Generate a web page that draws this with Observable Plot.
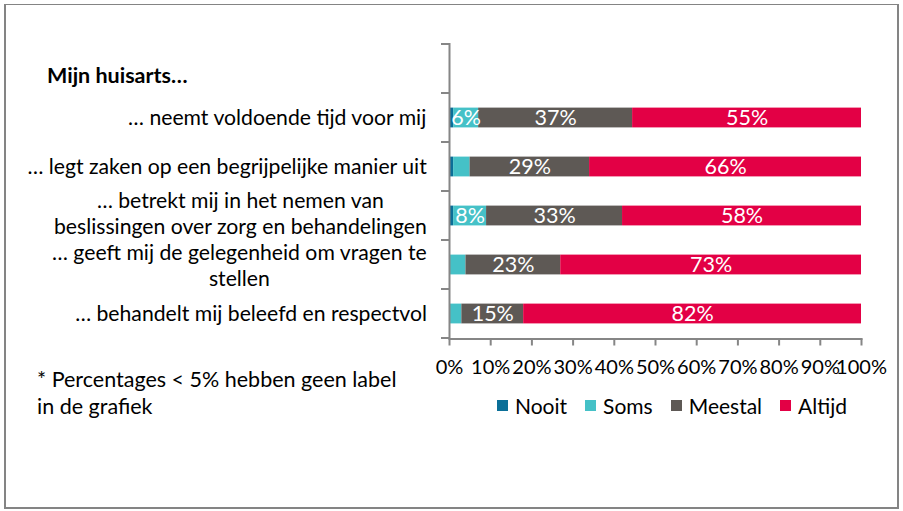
<!DOCTYPE html>
<html><head><meta charset="utf-8">
<script src="https://cdn.jsdelivr.net/npm/d3@7"></script>
<script src="https://cdn.jsdelivr.net/npm/@observablehq/plot@0.6"></script>
<style>
body{margin:0;background:#fff;}
#wrap{position:relative;width:903px;height:511px;font-family:Lato, "Open Sans", sans-serif;color:#000;overflow:hidden;}
#frame{position:absolute;left:4px;top:4px;width:895px;height:505px;border:2px solid #848484;border-top-width:1.5px;box-sizing:border-box;}
#chart{position:absolute;left:0;top:0;}
#title{position:absolute;left:47px;top:62px;font-size:21.5px;font-weight:bold;}
#note{position:absolute;left:37px;top:366px;font-size:21.5px;line-height:27px;}
#legend{position:absolute;left:497px;top:393px;display:flex;gap:18px;font-size:21px;align-items:center;}
#legend .it{display:flex;align-items:center;gap:7px;}
#legend .sw{width:11px;height:11px;}
</style>
</head><body>
<div id="wrap">
  <div id="frame"></div>
  <div id="chart"></div>
  <div id="title"></div>
  <div id="note"></div>
  <div id="legend"></div>
</div>
<script>
// ---- data ----
const titleText = "Mijn huisarts…";
const noteText = "* Percentages < 5% hebben geen label<br>in de grafiek";
const items = [
  "… neemt voldoende tijd voor mij",
  "… legt zaken op een begrijpelijke manier uit",
  "… betrekt mij in het nemen van beslissingen over zorg en behandelingen",
  "… geeft mij de gelegenheid om vragen te stellen",
  "… behandelt mij beleefd en respectvol"
];
const itemLines = [
  ["… neemt voldoende tijd voor mij"],
  ["… legt zaken op een begrijpelijke manier uit"],
  ["… betrekt mij in het nemen van", "beslissingen over zorg en behandelingen"],
  ["… geeft mij de gelegenheid om vragen te", "stellen"],
  ["… behandelt mij beleefd en respectvol"]
];
const responses = ["Nooit", "Soms", "Meestal", "Altijd"];
const colors = ["#0b6f98", "#45c1c7", "#5e5955", "#e30045"];
const nooit   = [1, 1, 1, 0, 0];
const soms    = [6, 4, 8, 4, 3];
const meestal = [37, 29, 33, 23, 15];
const altijd  = [55, 66, 58, 73, 82];
const xTicks = [0, 0.1, 0.2, 0.3, 0.4, 0.5, 0.6, 0.7, 0.8, 0.9, 1];

// ---- table ----
const series = [nooit, soms, meestal, altijd];
const data = [];
items.forEach((item, i) => responses.forEach((r, j) => data.push({item, resp: r, value: series[j][i]})));

const FONT = "Lato, 'Open Sans', sans-serif";
const FS = 21.5;   // bar labels
const YFS = 21.2;  // category labels
const XFS = 20;    // tick labels
const gray = "#868686";
const ctx = document.createElement("canvas").getContext("2d");
ctx.font = `${YFS}px ${FONT}`;

const yDomain = ["", ...items];

function yAxisMark(index, scales, values, dims) {
  const y = scales.y;
  const step = y(items[1]) - y(items[0]);
  const x0 = dims.marginLeft;
  const g = d3.create("svg:g");
  const bounds = yDomain.map(d => y(d)).concat([y(items[items.length - 1]) + step]);
  g.selectAll("line").data(bounds).join("line")
    .attr("x1", x0 - 8).attr("x2", x0).attr("y1", d => d).attr("y2", d => d)
    .attr("stroke", gray).attr("stroke-width", 2);
  const lh = 26;
  items.forEach((item, i) => {
    const lines = itemLines[i];
    const w = d3.max(lines, l => ctx.measureText(l).width);
    const cx = x0 - 22 - w / 2;
    // wrapped labels spread slightly away from each other to keep clear of neighbours
    const nudge = lines.length > 1 ? (i < items.length / 2 ? -2 : 1) : 0;
    const cy = y(item) + step / 2 + nudge;
    const t = g.append("text").attr("font-family", FONT).attr("font-size", YFS)
      .attr("text-anchor", "middle").attr("fill", "#000");
    lines.forEach((l, k) => {
      t.append("tspan").attr("x", cx)
        .attr("y", cy + (k - (lines.length - 1) / 2) * lh)
        .attr("dy", "0.35em").text(l);
    });
  });
  return g.node();
}

const chart = Plot.plot({
  width: 903,
  height: 400,
  marginTop: 43,
  marginBottom: 61.5,
  marginLeft: 449,
  marginRight: 42,
  style: {fontFamily: FONT, fontSize: FS + "px", background: "transparent", color: "#000"},
  x: {domain: [0, 1]},
  y: {domain: yDomain, padding: 0, axis: null},
  color: {domain: responses, range: colors},
  marks: [
    Plot.barX(data, Plot.stackX({x: "value", y: "item", fill: "resp", order: responses, offset: "normalize", insetTop: 14.6, insetBottom: 14.6})),
    Plot.text(data, Plot.stackX({x: "value", y: "item", z: "resp", order: responses, offset: "normalize",
      text: d => d.value >= 5 ? d.value + "%" : "", fill: "white", fontSize: FS})),
    Plot.ruleX([0], {stroke: gray, strokeWidth: 2}),
    Plot.frame({anchor: "bottom", stroke: gray, strokeWidth: 2}),
    Plot.axisX({anchor: "bottom", ticks: xTicks, tickFormat: d3.format(".0%"), tickSize: 7, tickPadding: 14,
      stroke: gray, strokeWidth: 2, label: null, fontSize: XFS, fill: "#000"}),
    yAxisMark
  ]
});
document.getElementById("chart").appendChild(chart);
document.getElementById("title").textContent = titleText;
document.getElementById("note").innerHTML = noteText;
const leg = d3.select("#legend");
responses.forEach((r, i) => {
  const it = leg.append("div").attr("class", "it");
  it.append("div").attr("class", "sw").style("background", colors[i]);
  it.append("span").text(r);
});
</script>
</body></html>
